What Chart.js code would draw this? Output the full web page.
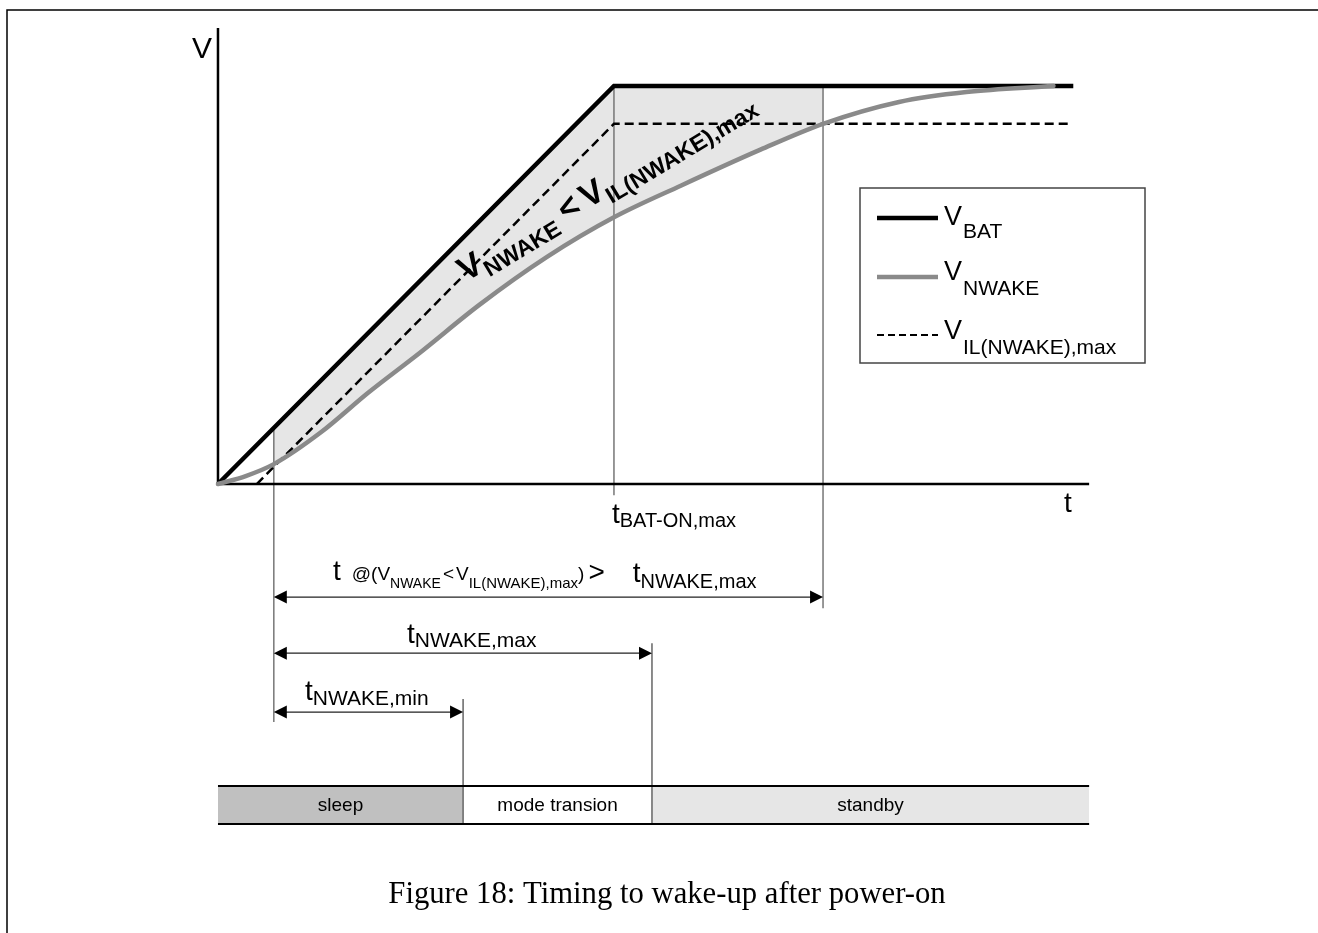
<!DOCTYPE html>
<html>
<head>
<meta charset="utf-8">
<script src="https://cdn.jsdelivr.net/npm/chart.js@4.4.1/dist/chart.umd.min.js"></script>
<style>
  html, body { margin: 0; padding: 0; background: #fff; }
  #wrap { width: 1318px; height: 933px; }
</style>
</head>
<body>
<div id="wrap"><canvas id="timing" width="1318" height="933"></canvas></div>
<script>
// supply ramp (t in arbitrary units, t_BAT-ON,max = 10, V_BAT = 10)
const vbatT = [0, 10, 21.6];
const vbatV = [0, 10, 10];
// voltage on the NWAKE pin
const nwakeT = [0, 0.7, 1.41, 2.6, 3.8, 5.1, 6.6, 8.3, 10, 11.7, 13.7, 15.28, 17.2, 18.9, 21.1];
const nwakeV = [0, 0.2, 0.5, 1.3, 2.3, 3.3, 4.5, 5.7, 6.7, 7.5, 8.4, 9.05, 9.6, 9.85, 10];
// input low threshold
const vilT = [0.98, 10, 21.55];
const vilV = [0, 9.05, 9.05];

// time marks
const tLowStart = 1.41;  // V_NWAKE drops under V_IL
const tBatOn = 10;
const tLowEnd = 15.28;   // V_NWAKE back over V_IL
const tWakeMin = 6.19;
const tWakeMax = 10.96;
const tEnd = 22;
const vTop = 11.46;

// shaded zone (upper edge follows V_BAT)
const bandT = [tLowStart, tBatOn, tLowEnd];
const bandV = [1.41, 10, 10];

// operating modes
const modeNames = ['sleep', 'mode transion', 'standby'];
const modeStart = [0, tWakeMin, tWakeMax];
const modeEnd = [tWakeMin, tWakeMax, tEnd];

// dimension arrows: from / to
const arrowFrom = [tLowStart, tLowStart, tLowStart];
const arrowTo = [tLowEnd, tWakeMax, tWakeMin];

// layout (in V units below the t axis)
const lay = {
  arrowY: [-2.84, -4.25, -5.73],
  barTop: -7.59,
  barBottom: -8.54,
  markTop: [1.41, 10, 10],
  markBottom: [-5.98, -0.28, -3.12],
  modeMarkTop: [-5.4, -4.0]
};

const SANS = "'Liberation Sans', Arial, sans-serif";
const SERIF = "'Liberation Serif', 'DejaVu Serif', serif";
const GREY = '#8a8a8a';
const SHADE = '#e6e6e6';
const modeColors = ['#c0c0c0', '#ffffff', SHADE];

function pts(ts, vs) {
    return ts.map((t, i) => ({ x: t, y: vs[i] }));
}

function thinLine(data, color, width) {
    return { data: data, borderColor: color, borderWidth: width, pointRadius: 0, fill: false };
}

const datasets = [
    { label: 'V_NWAKE', data: pts(nwakeT, nwakeV), borderColor: GREY, borderWidth: 4.5,
      cubicInterpolationMode: 'monotone', borderCapStyle: 'round', pointRadius: 0, fill: false },
    { label: 'V_BAT', data: pts(vbatT, vbatV), borderColor: '#000', borderWidth: 4.5, pointRadius: 0, fill: false },
    { label: 'V_IL', data: pts(vilT, vilV), borderColor: '#000', borderWidth: 2.5, borderDash: [9, 5],
      pointRadius: 0, fill: false },
    // axes
    thinLine([{ x: 0, y: vTop }, { x: 0, y: 0 }, { x: tEnd, y: 0 }], '#000', 2.5),
    // bar outline
    thinLine([{ x: 0, y: lay.barTop }, { x: tEnd, y: lay.barTop }], '#000', 2),
    thinLine([{ x: 0, y: lay.barBottom }, { x: tEnd, y: lay.barBottom }], '#000', 2)
];

// vertical time marks
[tLowStart, tBatOn, tLowEnd].forEach((t, i) => {
    datasets.push(thinLine([{ x: t, y: lay.markTop[i] }, { x: t, y: lay.markBottom[i] }], '#777', 1.5));
});
[tWakeMin, tWakeMax].forEach((t, i) => {
    datasets.push(thinLine([{ x: t, y: lay.modeMarkTop[i] }, { x: t, y: lay.barBottom }], '#666', 1.5));
});

// shaded zone between V_BAT and V_NWAKE
datasets.push({ data: pts(bandT, bandV), borderWidth: 0, pointRadius: 0,
    fill: { target: 0, above: SHADE, below: SHADE }, backgroundColor: SHADE });

// mode bar fills
modeNames.forEach((m, i) => {
    datasets.push({ data: [{ x: modeStart[i], y: lay.barTop }, { x: modeEnd[i], y: lay.barTop }],
        borderWidth: 0, pointRadius: 0, backgroundColor: modeColors[i],
        fill: { value: lay.barBottom } });
});

function rich(ctx, x, y, parts, bold) {
    let cx = x;
    parts.forEach(p => {
        cx += p.gap || 0;
        ctx.font = (bold ? 'bold ' : '') + p.s + 'px ' + SANS;
        ctx.fillText(p.t, cx, y + (p.dy || 0));
        cx += ctx.measureText(p.t).width;
    });
    return cx;
}

function arrowHead(ctx, x, y, dir) {
    ctx.beginPath();
    ctx.moveTo(x, y);
    ctx.lineTo(x - dir * 13, y - 6.5);
    ctx.lineTo(x - dir * 13, y + 6.5);
    ctx.closePath();
    ctx.fill();
}

const decor = {
    id: 'decor',
    beforeDraw(chart) {
        const ctx = chart.ctx;
        ctx.save();
        ctx.fillStyle = '#fff';
        ctx.fillRect(0, 0, chart.width, chart.height);
        // frame of the figure
        ctx.strokeStyle = '#000';
        ctx.lineWidth = 1.5;
        ctx.beginPath();
        ctx.moveTo(7, chart.height);
        ctx.lineTo(7, 10);
        ctx.lineTo(chart.width, 10);
        ctx.stroke();
        ctx.restore();
    },
    afterDatasetsDraw(chart) {
        const ctx = chart.ctx;
        const X = v => chart.scales.x.getPixelForValue(v);
        const Y = v => chart.scales.y.getPixelForValue(v);
        ctx.save();
        ctx.fillStyle = '#000';
        ctx.textBaseline = 'alphabetic';
        ctx.textAlign = 'left';

        // dimension arrows
        ctx.strokeStyle = '#222';
        ctx.lineWidth = 1.3;
        arrowFrom.forEach((f, i) => {
            const y = Y(lay.arrowY[i]);
            ctx.beginPath();
            ctx.moveTo(X(f) + 4, y);
            ctx.lineTo(X(arrowTo[i]) - 4, y);
            ctx.stroke();
            arrowHead(ctx, X(f), y, -1);
            arrowHead(ctx, X(arrowTo[i]), y, 1);
        });

        // axis names
        rich(ctx, 192, 58, [{ t: 'V', s: 30 }]);
        rich(ctx, 1064, 512, [{ t: 't', s: 28 }]);

        // time labels
        rich(ctx, X(tBatOn) - 2, 523, [{ t: 't', s: 28 }, { t: 'BAT-ON,max', s: 20, dy: 4 }]);
        rich(ctx, 333, 580, [
            { t: 't', s: 28 }, { t: '@(V', s: 19, gap: 11 }, { t: 'NWAKE', s: 14, dy: 8 },
            { t: '<', s: 19, gap: 2 }, { t: 'V', s: 19, gap: 2 }, { t: 'IL(NWAKE),max', s: 15, dy: 8 },
            { t: ')', s: 19 }, { t: '>', s: 28, gap: 4, dy: 1 }, { t: 't', s: 28, gap: 28, dy: 2 },
            { t: 'NWAKE,max', s: 20, dy: 8 }
        ]);
        rich(ctx, 407, 643, [{ t: 't', s: 28 }, { t: 'NWAKE,max', s: 21, dy: 4 }]);
        rich(ctx, 305, 700, [{ t: 't', s: 28 }, { t: 'NWAKE,min', s: 21, dy: 5 }]);

        // slanted zone label
        ctx.save();
        ctx.translate(466, 282);
        ctx.rotate(-31 * Math.PI / 180);
        rich(ctx, 0, 0, [
            { t: 'V', s: 34 }, { t: 'NWAKE', s: 23, dy: 8 }, { t: '<', s: 34, gap: 8 },
            { t: 'V', s: 34, gap: 6 }, { t: 'IL(NWAKE),max', s: 23, dy: 8 }
        ], true);
        ctx.restore();

        // mode names
        ctx.textAlign = 'center';
        ctx.font = '19px ' + SANS;
        modeNames.forEach((m, i) => {
            ctx.fillText(m, (X(modeStart[i]) + X(modeEnd[i])) / 2, 811);
        });
        ctx.textAlign = 'left';

        // legend
        ctx.strokeStyle = '#444';
        ctx.lineWidth = 1.5;
        ctx.strokeRect(860, 188, 285, 175);
        const rows = [
            { ds: chart.data.datasets[1], sub: 'BAT', ly: 218, vy: 225, sy: 238 },
            { ds: chart.data.datasets[0], sub: 'NWAKE', ly: 277, vy: 280, sy: 295 },
            { ds: chart.data.datasets[2], sub: 'IL(NWAKE),max', ly: 335, vy: 339, sy: 354 }
        ];
        rows.forEach(r => {
            ctx.strokeStyle = r.ds.borderColor;
            ctx.lineWidth = r.ds.borderDash ? 2 : r.ds.borderWidth;
            ctx.setLineDash(r.ds.borderDash ? [7, 4] : []);
            ctx.beginPath();
            ctx.moveTo(877, r.ly);
            ctx.lineTo(938, r.ly);
            ctx.stroke();
            ctx.setLineDash([]);
            rich(ctx, 944, r.vy, [{ t: 'V', s: 27 }]);
            rich(ctx, 963, r.sy, [{ t: r.sub, s: 21 }]);
        });

        // caption
        const cap = 'Figure 18: Timing to wake-up after power-on';
        ctx.font = '26px ' + SERIF;
        const size = 26 * 557 / ctx.measureText(cap).width;
        ctx.font = size.toFixed(1) + 'px ' + SERIF;
        ctx.textAlign = 'center';
        ctx.fillText(cap, 667, 903);
        ctx.restore();
    }
};

new Chart(document.getElementById('timing'), {
    type: 'line',
    data: { datasets: datasets },
    options: {
        responsive: false,
        animation: false,
        events: [],
        layout: { padding: 0, autoPadding: false },
        scales: {
            x: { type: 'linear', display: false, min: -5.505, max: 27.78 },
            y: { type: 'linear', display: false, min: -11.281, max: 12.161 }
        },
        plugins: {
            legend: { display: false },
            tooltip: { enabled: false },
            filler: { drawTime: 'beforeDatasetsDraw' }
        }
    },
    plugins: [decor]
});
</script>
</body>
</html>
